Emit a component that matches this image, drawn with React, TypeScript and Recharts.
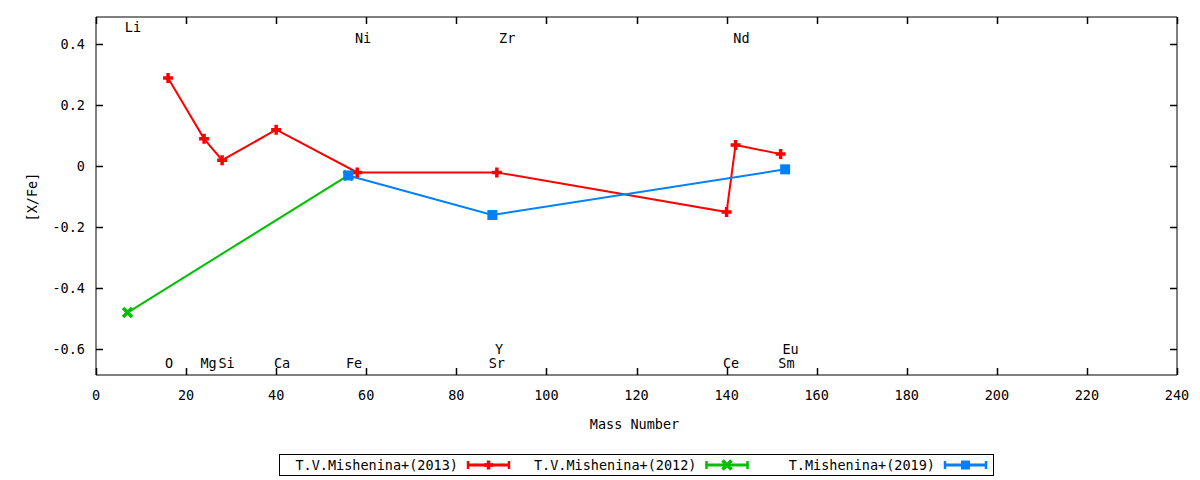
import React from "react";
import { Line, LineChart, ReferenceDot, XAxis, YAxis } from "recharts";

// [X/Fe] abundance vs mass number, three studies
const MASS_2013 = [16, 24, 28, 40, 58, 89, 140, 142, 152];
const XFE_2013 = [0.29, 0.09, 0.02, 0.12, -0.02, -0.02, -0.15, 0.07, 0.04];
const MASS_2012 = [7, 56];
const XFE_2012 = [-0.48, -0.03];
const MASS_2019 = [56, 88, 153];
const XFE_2019 = [-0.03, -0.16, -0.01];

const ELEMENT_NAMES = ["Li", "Ni", "Zr", "Nd", "O", "Mg", "Si", "Ca", "Fe", "Y", "Sr", "Ce", "Eu", "Sm"];
const ELEMENT_MASS = [8.2, 59.3, 91.3, 143.3, 16.2, 25, 29, 41.3, 57.3, 89.5, 89, 141, 154.2, 153.3];
const ELEMENT_LEVEL = [0.456, 0.42, 0.42, 0.42, -0.646, -0.646, -0.646, -0.646, -0.646, -0.6, -0.646, -0.646, -0.6, -0.646];

const X_TICKS = [0, 20, 40, 60, 80, 100, 120, 140, 160, 180, 200, 220, 240];
const Y_TICKS = [-0.6, -0.4, -0.2, 0, 0.2, 0.4];
const X_DOMAIN = [0, 240];
const Y_DOMAIN = [-0.685, 0.49];

const SERIES_LABELS = ["T.V.Mishenina+(2013)", "T.V.Mishenina+(2012)", "T.Mishenina+(2019)"];
const SERIES_COLORS = ["#ff0000", "#00c000", "#0080ff"];
// the 2012 series sits on the mirrored axes (same scales) so that they get drawn
const SERIES_X_AXIS = [0, "top", 0];
const SERIES_Y_AXIS = [0, "right", 0];

const FONT = "'DejaVu Sans Mono', monospace";
const TICK_LEN = 7;
const TICK_W = 1.5;
const X_LABEL_GAP = 20;
const Y_LABEL_GAP = 11;

function toPoints(mass: number[], xfe: number[]) {
  return mass.map((m, i) => ({ mass: m, xfe: xfe[i] }));
}

const snap = (v: number) => Math.round(v) + 0.5;

function PlusMark({ cx, cy, color, size = 5 }: any) {
  if (cx == null || cy == null) return null;
  return (
    <path
      d={`M${cx - size},${cy}H${cx + size}M${cx},${cy - size}V${cy + size}`}
      stroke={color}
      strokeWidth={3.5}
      fill="none"
    />
  );
}

function CrossMark({ cx, cy, color, size = 4.5 }: any) {
  if (cx == null || cy == null) return null;
  return (
    <path
      d={`M${cx - size},${cy - size}L${cx + size},${cy + size}M${cx - size},${cy + size}L${cx + size},${cy - size}`}
      stroke={color}
      strokeWidth={3.5}
      fill="none"
    />
  );
}

function SquareMark({ cx, cy, color, size = 5 }: any) {
  if (cx == null || cy == null) return null;
  return <rect x={cx - size} y={cy - size} width={size * 2} height={size * 2} fill={color} />;
}

const MARKS = [PlusMark, CrossMark, SquareMark];

// bottom axis: inward tick + label below
function XTick({ x, y, payload }: any) {
  const edge = y - X_LABEL_GAP;
  const sx = snap(x);
  return (
    <g>
      <path d={`M${sx},${edge}V${edge - TICK_LEN}`} stroke="#000" strokeWidth={TICK_W} fill="none" />
      <text x={x} y={y} textAnchor="middle" dominantBaseline="central" fontFamily={FONT} fontSize={13.5} fill="#000">
        {payload.value}
      </text>
    </g>
  );
}

// left axis: inward tick + label to the left
function YTick({ x, y, payload }: any) {
  const v = Number(payload.value);
  const label = Math.abs(v) < 1e-9 ? "0" : String(Math.round(v * 10) / 10);
  const edge = x + Y_LABEL_GAP;
  const sy = snap(y);
  return (
    <g>
      <path d={`M${edge},${sy}H${edge + TICK_LEN}`} stroke="#000" strokeWidth={TICK_W} fill="none" />
      <text x={x} y={y} textAnchor="end" dominantBaseline="central" fontFamily={FONT} fontSize={13.5} fill="#000">
        {label}
      </text>
    </g>
  );
}

// top axis: inward tick only
function TopTick({ x, y }: any) {
  const sx = snap(x);
  return <path d={`M${sx},${y}V${y + TICK_LEN}`} stroke="#000" strokeWidth={TICK_W} fill="none" />;
}

// right axis: inward tick only
function RightTick({ x, y }: any) {
  const sy = snap(y);
  return <path d={`M${x},${sy}H${x - TICK_LEN}`} stroke="#000" strokeWidth={TICK_W} fill="none" />;
}

function ElementLabel({ cx, cy, name }: any) {
  return (
    <text x={cx} y={cy} textAnchor="middle" dominantBaseline="central" fontFamily={FONT} fontSize={13.5} fill="#000">
      {name}
    </text>
  );
}

function LegendBox() {
  const step = 238.5;
  return (
    <svg width={716} height={22} style={{ position: "absolute", left: 279, top: 454 }}>
      <rect x={0.5} y={0.5} width={714} height={21} fill="#fff" stroke="#000" strokeWidth={1} />
      {SERIES_LABELS.map((label, i) => {
        const end = 179 + i * step;
        const s0 = end + 9;
        const s1 = s0 + 43;
        const mid = (s0 + s1) / 2;
        const Mark = MARKS[i];
        return (
          <g key={label}>
            <text x={end} y={11} textAnchor="end" dominantBaseline="central" fontFamily={FONT} fontSize={13.5} fill="#000">
              {label}
            </text>
            <line x1={s0} x2={s1} y1={11} y2={11} stroke={SERIES_COLORS[i]} strokeWidth={3} />
            <line x1={s0 + 1} x2={s0 + 1} y1={7} y2={15} stroke={SERIES_COLORS[i]} strokeWidth={2.5} />
            <line x1={s1 - 1} x2={s1 - 1} y1={7} y2={15} stroke={SERIES_COLORS[i]} strokeWidth={2.5} />
            <Mark cx={mid} cy={11} color={SERIES_COLORS[i]} size={4.5} />
          </g>
        );
      })}
    </svg>
  );
}

export default function App() {
  const series = [
    toPoints(MASS_2013, XFE_2013),
    toPoints(MASS_2012, XFE_2012),
    toPoints(MASS_2019, XFE_2019),
  ];

  return (
    <div style={{ position: "absolute", left: 0, top: 0, width: 1200, height: 480, background: "#fff" }}>
      <LineChart width={1200} height={480} margin={{ top: 16, right: 22, bottom: 45, left: 0 }}>
        <XAxis
          type="number"
          dataKey="mass"
          domain={X_DOMAIN}
          ticks={X_TICKS}
          allowDataOverflow
          height={60}
          tickSize={0}
          tickMargin={X_LABEL_GAP}
          tickLine={false}
          tick={<XTick />}
          axisLine={{ stroke: "#000" }}
          label={{
            content: ({ viewBox }: any) => (
              <text
                x={viewBox.x + viewBox.width / 2 - 2}
                y={viewBox.y + 49}
                textAnchor="middle"
                dominantBaseline="central"
                fontFamily={FONT}
                fontSize={13.5}
                fill="#000"
              >
                Mass Number
              </text>
            ),
          }}
        />
        <XAxis
          xAxisId="top"
          orientation="top"
          type="number"
          dataKey="mass"
          domain={X_DOMAIN}
          ticks={X_TICKS}
          allowDataOverflow
          height={1}
          tickSize={0}
          tickMargin={0}
          tickLine={false}
          tick={<TopTick />}
          axisLine={{ stroke: "#000" }}
        />
        <YAxis
          type="number"
          domain={Y_DOMAIN}
          ticks={Y_TICKS}
          allowDataOverflow
          width={96}
          tickSize={0}
          tickMargin={Y_LABEL_GAP}
          tickLine={false}
          tick={<YTick />}
          axisLine={{ stroke: "#000" }}
          label={{
            content: () => (
              <text
                x={32}
                y={197}
                textAnchor="middle"
                dominantBaseline="central"
                fontFamily={FONT}
                fontSize={13.5}
                fill="#000"
                transform="rotate(-90 32 197)"
              >
                [X/Fe]
              </text>
            ),
          }}
        />
        <YAxis
          yAxisId="right"
          orientation="right"
          type="number"
          domain={Y_DOMAIN}
          ticks={Y_TICKS}
          allowDataOverflow
          width={1}
          tickSize={0}
          tickMargin={0}
          tickLine={false}
          tick={<RightTick />}
          axisLine={{ stroke: "#000" }}
        />
        {ELEMENT_NAMES.map((name, i) => (
          <ReferenceDot
            key={name}
            x={ELEMENT_MASS[i]}
            y={ELEMENT_LEVEL[i]}
            r={0}
            ifOverflow="visible"
            shape={(p: any) => <ElementLabel cx={p.cx} cy={p.cy} name={name} />}
          />
        ))}
        {series.map((data, i) => {
          const Mark = MARKS[i];
          return (
            <Line
              key={SERIES_LABELS[i]}
              data={data}
              dataKey="xfe"
              name={SERIES_LABELS[i]}
              xAxisId={SERIES_X_AXIS[i]}
              yAxisId={SERIES_Y_AXIS[i]}
              type="linear"
              stroke={SERIES_COLORS[i]}
              strokeWidth={2}
              isAnimationActive={false}
              dot={(p: any) => <Mark key={`${i}-${p.index}`} cx={p.cx} cy={p.cy} color={SERIES_COLORS[i]} />}
              activeDot={false}
            />
          );
        })}
      </LineChart>
      <LegendBox />
    </div>
  );
}
